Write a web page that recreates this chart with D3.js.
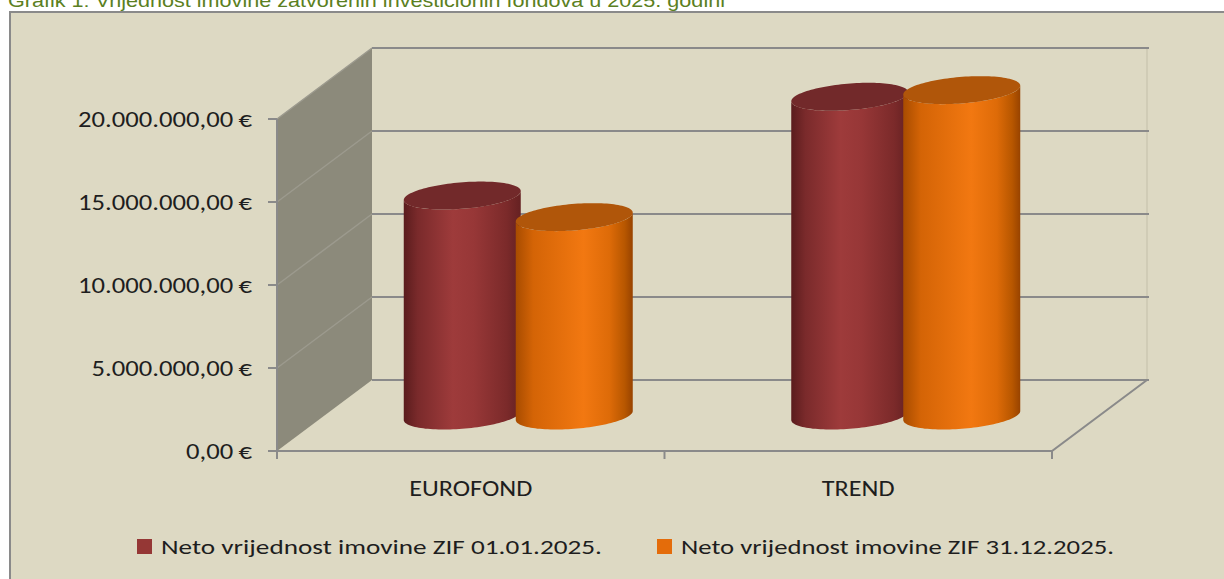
<!DOCTYPE html>
<html>
<head>
<meta charset="utf-8">
<script src="https://cdn.jsdelivr.net/npm/d3@7"></script>
<style>
  html, body { margin: 0; padding: 0; background: #ffffff; }
  svg { display: block; }
</style>
</head>
<body>
<svg id="chart" width="1224" height="579"></svg>
<script>
// ---- data ----
const titleText = "Grafik 1: Vrijednost imovine zatvorenih investicionih fondova u 2025. godini";
const categories = ["EUROFOND", "TREND"];
const seriesNames = ["Neto vrijednost imovine ZIF 01.01.2025.", "Neto vrijednost imovine ZIF 31.12.2025."];
const valuesStart = [13250000, 19200000];
const valuesEnd = [11950000, 19600000];
const yTicks = [0, 5000000, 10000000, 15000000, 20000000];

// ---- styling ----
const BG = "#DDD9C3";
const WALL = "#8C8A7B";
const GRID = "#8A8A8A";
const FONT = "Carlito, Lato, 'Open Sans', sans-serif";
const seriesColors = [
  { top: "#72292A", stops: [[0, "#5A1C1D"], [0.12, "#7A2A2B"], [0.42, "#9E3B3B"], [0.6, "#973737"], [0.88, "#7B2A2A"], [1, "#652122"]], legend: "#953735" },
  { top: "#B0560A", stops: [[0, "#A84C00"], [0.15, "#D46406"], [0.58, "#F27811"], [0.8, "#DE6B08"], [0.93, "#B85700"], [1, "#984300"]], legend: "#E46C0A" }
];

const svg = d3.select("#chart");
const defs = svg.append("defs");

// frame
svg.append("rect").attr("x", 10).attr("y", 12).attr("width", 1230).attr("height", 600)
  .attr("fill", BG).attr("stroke", "#8A8A8A").attr("stroke-width", 2);

// title (mostly cut off at the top)
svg.append("text").attr("x", 8).attr("y", 7)
  .attr("font-family", "'Liberation Sans', Arial, sans-serif").attr("font-size", 19)
  .attr("fill", "#5B7F22").attr("textLength", 717).attr("lengthAdjust", "spacingAndGlyphs")
  .text(titleText);

// ---- scales ----
const x = d3.scaleBand().domain(categories).range([277, 1052]).padding(0);
const y = d3.scaleLinear().domain([0, 20000000]).range([451, 119]);
const sx = d3.scaleBand().domain(d3.range(seriesNames.length)).range([-112, 112]).padding(0);
const DX = 95, DY = -71;
const x0 = x.range()[0], x1 = x.range()[1];

// side wall
const yTop = y(yTicks[yTicks.length - 1]), yBot = y(0);
svg.append("path")
  .attr("d", `M${x0},${yTop}L${x0 + DX},${yTop + DY}L${x0 + DX},${yBot + DY}L${x0},${yBot}Z`)
  .attr("fill", WALL);
// side wall gridlines
svg.selectAll(".sgrid").data(yTicks.slice(1, -1)).enter().append("line")
  .attr("x1", x0).attr("y1", d => y(d)).attr("x2", x0 + DX).attr("y2", d => y(d) + DY)
  .attr("stroke", "#9C9A8E").attr("stroke-width", 1.5);
// side wall top edge
svg.append("line").attr("x1", x0).attr("y1", yTop).attr("x2", x0 + DX).attr("y2", yTop + DY)
  .attr("stroke", "#9C9A8E").attr("stroke-width", 1.5);

// back wall right edge (faint)
svg.append("line").attr("x1", x1 + DX).attr("y1", yTop + DY).attr("x2", x1 + DX).attr("y2", yBot + DY)
  .attr("stroke", "#CBC7B2").attr("stroke-width", 1.5);

// back wall gridlines
svg.selectAll(".bgrid").data(yTicks).enter().append("line")
  .attr("x1", x0 + DX).attr("x2", x1 + DX + 2)
  .attr("y1", d => y(d) + DY).attr("y2", d => y(d) + DY)
  .attr("stroke", GRID).attr("stroke-width", 2);

// floor edges
svg.append("path")
  .attr("d", `M${x0},${yBot}L${x1},${yBot}L${x1 + DX},${yBot + DY}`)
  .attr("fill", "none").attr("stroke", GRID).attr("stroke-width", 2);

// y axis line and ticks
svg.append("line").attr("x1", x0).attr("x2", x0).attr("y1", yTop).attr("y2", yBot + 8)
  .attr("stroke", GRID).attr("stroke-width", 2);
svg.selectAll(".ytick").data(yTicks).enter().append("line")
  .attr("x1", x0 - 9).attr("x2", x0).attr("y1", d => y(d)).attr("y2", d => y(d))
  .attr("stroke", GRID).attr("stroke-width", 2);
// x ticks
const xTickPos = [x0].concat(categories.map(c => x(c) + x.bandwidth()));
svg.selectAll(".xtick").data(xTickPos).enter().append("line")
  .attr("x1", d => d).attr("x2", d => d).attr("y1", yBot).attr("y2", yBot + 8)
  .attr("stroke", GRID).attr("stroke-width", 2);

// y labels
const loc = d3.formatLocale({ decimal: ",", thousands: ".", grouping: [3], currency: ["", "\u2009€"] });
const fmt = loc.format("$,.2f");
const yLabels = svg.selectAll(".ylab").data(yTicks).enter().append("text")
  .attr("x", 252).attr("y", d => y(d)).attr("dy", "0.36em")
  .attr("text-anchor", "end").attr("font-family", FONT).attr("font-size", 22)
  .attr("fill", "#1E1E1E").text(d => fmt(d));
// compress horizontally to match narrow reference font
(function () {
  let maxW = 0;
  yLabels.each(function () { maxW = Math.max(maxW, this.getComputedTextLength()); });
  const f = 174 / maxW;
  yLabels.each(function () {
    d3.select(this).attr("textLength", this.getComputedTextLength() * f).attr("lengthAdjust", "spacingAndGlyphs");
  });
})();

// category labels
const catLabels = svg.selectAll(".clab").data(categories).enter().append("text")
  .attr("x", d => x(d) + x.bandwidth() / 2).attr("y", 496)
  .attr("text-anchor", "middle").attr("font-family", FONT).attr("font-size", 22)
  .attr("fill", "#1E1E1E").text(d => d);
(function () {
  const w0 = catLabels.nodes()[0].getComputedTextLength();
  const f = 123 / w0;
  catLabels.each(function () {
    d3.select(this).attr("textLength", this.getComputedTextLength() * f).attr("lengthAdjust", "spacingAndGlyphs");
  });
})();

// ---- cylinders ----
const Q = 14;                      // half height of the cap ellipse
const P = Q * DX / -DY;            // depth skew in x
const HALFW = 58.5;
const R = Math.sqrt(HALFW * HALFW - P * P);
const T0 = Math.atan2(P, R);
function pt(cx, cy, t) { return [cx + R * Math.cos(t) + P * Math.sin(t), cy - Q * Math.sin(t)]; }
function arcPts(cx, cy, ta, tb, n) {
  const out = [];
  for (let i = 0; i <= n; i++) out.push(pt(cx, cy, ta + (tb - ta) * i / n));
  return out;
}
const line = d3.line();

seriesColors.forEach((c, i) => {
  const g = defs.append("linearGradient").attr("id", "grad" + i)
    .attr("x1", 0).attr("x2", 1).attr("y1", 0).attr("y2", 0);
  c.stops.forEach(s => g.append("stop").attr("offset", s[0]).attr("stop-color", s[1]));
});

const seriesValues = [valuesStart, valuesEnd];
const bars = [];
categories.forEach((cat, ci) => {
  seriesValues.forEach((vals, si) => {
    bars.push({ cat, si, v: vals[ci] });
  });
});

const barG = svg.append("g");
bars.forEach(b => {
  const cx = x(b.cat) + x.bandwidth() / 2 + sx(b.si) + sx.bandwidth() / 2 + DX / 2;
  const baseY = y(0) + DY / 2;
  const topY = y(b.v) + DY / 2;
  const a = T0 + Math.PI, e = T0 + 2 * Math.PI;
  const front = arcPts(cx, baseY, a, e, 60);
  const topFront = arcPts(cx, topY, e, a, 60);
  const body = [pt(cx, topY, a)].concat(front, topFront);
  barG.append("path").attr("d", line(body) + "Z").attr("fill", `url(#grad${b.si})`);
  const cap = arcPts(cx, topY, 0, 2 * Math.PI, 120);
  barG.append("path").attr("d", line(cap) + "Z").attr("fill", seriesColors[b.si].top);
});

// ---- legend ----
const legendX = [137, 657];
const legendText = [];
seriesNames.forEach((name, i) => {
  svg.append("rect").attr("x", legendX[i]).attr("y", 539).attr("width", 15).attr("height", 15)
    .attr("fill", seriesColors[i].legend);
  legendText.push(svg.append("text").attr("x", legendX[i] + 24).attr("y", 554)
    .attr("font-family", FONT).attr("font-size", 21).attr("fill", "#1E1E1E").text(name));
});
const legendW = [441, 433];
legendText.forEach((t, i) => t.attr("textLength", legendW[i]).attr("lengthAdjust", "spacingAndGlyphs"));
</script>
</body>
</html>
